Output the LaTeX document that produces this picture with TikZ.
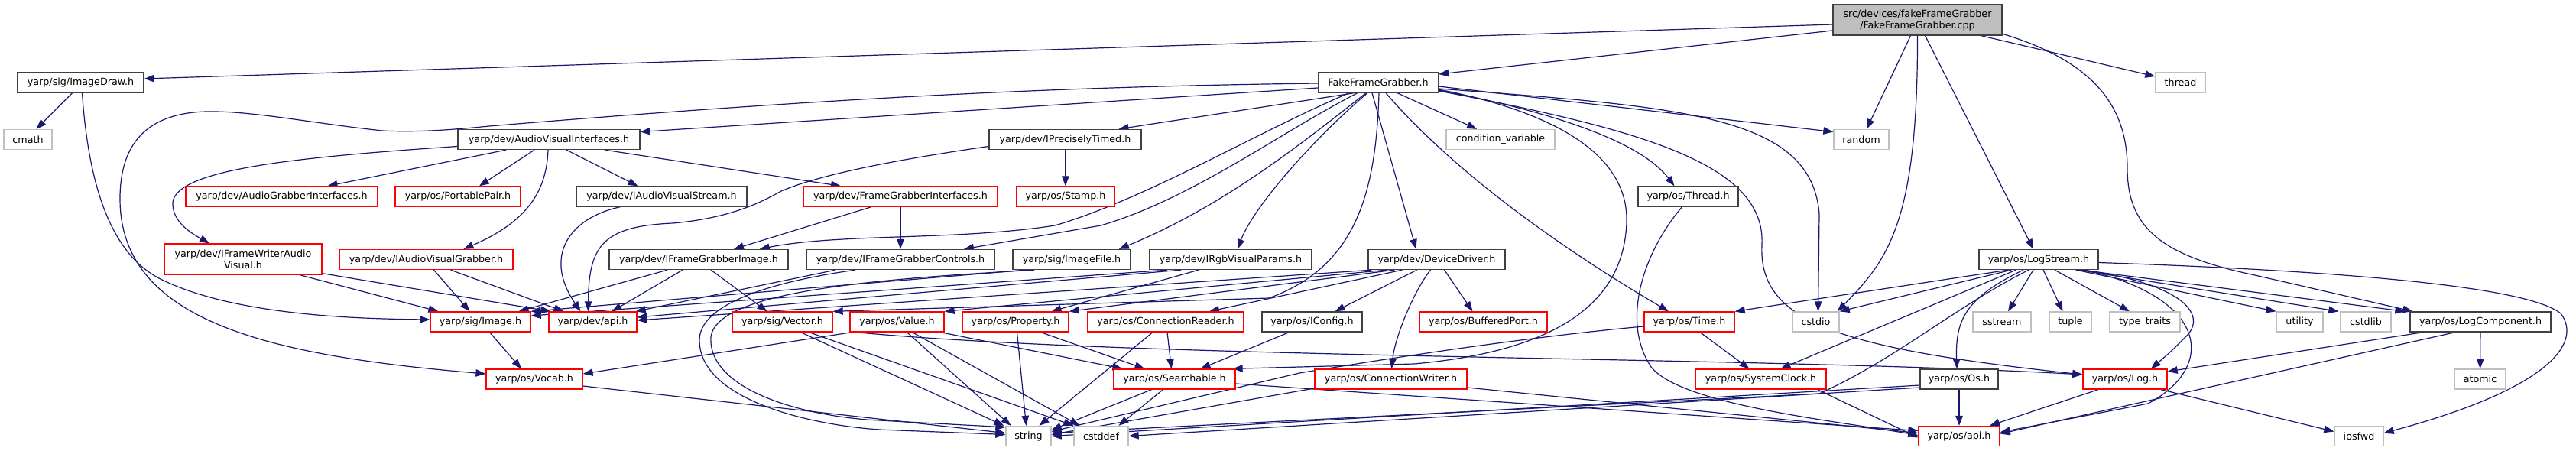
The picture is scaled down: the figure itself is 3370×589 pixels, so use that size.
\documentclass[tikz,border=0pt]{standalone}
\usepackage{fontspec}
\newfontfamily\dvs{DejaVu Sans}
\usetikzlibrary{arrows.meta,calc,backgrounds}
\definecolor{edgec}{HTML}{191970}
\definecolor{grayb}{HTML}{BFBFBF}
\definecolor{redc}{HTML}{FF0000}
\definecolor{blkc}{HTML}{404040}
\begin{document}
\begin{tikzpicture}[x=1pt,y=-1pt,
  hbox/.style={rectangle,line width=1.3pt,inner xsep=0pt,inner ysep=0pt,minimum height=26pt,
     font=\dvs\fontsize{12.7pt}{15pt}\selectfont,text=black,fill=white,align=center},
  blk/.style={hbox,draw=blkc},
  redb/.style={hbox,draw=redc},
  gryb/.style={hbox,draw=grayb},
  edg/.style={draw=edgec,line width=1.2pt,-{Triangle[length=13pt,width=9.5pt]}},
]
\useasboundingbox (0,0) rectangle (3370,589);
% row 0/1
\node[blk,fill=grayb,minimum width=221,minimum height=40] (root) at (2508.5,26) {src/devices/fakeFrameGrabber\\/FakeFrameGrabber.cpp};
\node[blk,minimum width=165] (imgdraw) at (105.5,108) {yarp/sig/ImageDraw.h};
\node[blk,minimum width=157] (ffgh) at (1803,108) {FakeFrameGrabber.h};
\node[gryb,minimum width=65] (thread) at (2852.5,108) {thread};
% row 2
\node[gryb,minimum width=63] (cmath) at (36.5,182.5) {cmath};
\node[blk,minimum width=238] (avi) at (718,182.5) {yarp/dev/AudioVisualInterfaces.h};
\node[blk,minimum width=199] (iprec) at (1393.5,182.5) {yarp/dev/IPreciselyTimed.h};
\node[gryb,minimum width=142] (condvar) at (1963,182.5) {condition\_variable};
\node[gryb,minimum width=72] (random) at (2435,182.5) {random};
% row 3
\node[redb,minimum width=251] (audiograb) at (368.5,257) {yarp/dev/AudioGrabberInterfaces.h};
\node[redb,minimum width=164] (portpair) at (599,257) {yarp/os/PortablePair.h};
\node[blk,minimum width=223] (iavstream) at (865.5,257) {yarp/dev/IAudioVisualStream.h};
\node[redb,minimum width=254] (fgi) at (1178,257) {yarp/dev/FrameGrabberInterfaces.h};
\node[redb,minimum width=128] (stamp) at (1394,257) {yarp/os/Stamp.h};
\node[blk,minimum width=131] (threadh) at (2208.5,257) {yarp/os/Thread.h};
% row 4
\node[redb,minimum width=206,minimum height=40] (ifwav) at (318,339) {yarp/dev/IFrameWriterAudio\\Visual.h};
\node[redb,minimum width=227] (iavgrab) at (557.5,339.5) {yarp/dev/IAudioVisualGrabber.h};
\node[blk,minimum width=234] (ifgimage) at (914,339.5) {yarp/dev/IFrameGrabberImage.h};
\node[blk,minimum width=246] (ifgcontrols) at (1178,339.5) {yarp/dev/IFrameGrabberControls.h};
\node[blk,minimum width=154] (imagefile) at (1402,339.5) {yarp/sig/ImageFile.h};
\node[blk,minimum width=212] (irgb) at (1610,339.5) {yarp/dev/IRgbVisualParams.h};
\node[blk,minimum width=179] (devdriver) at (1879.5,339.5) {yarp/dev/DeviceDriver.h};
\node[blk,minimum width=156] (logstream) at (2667,339.5) {yarp/os/LogStream.h};
% row 5
\node[redb,minimum width=131] (image) at (628.5,421) {yarp/sig/Image.h};
\node[redb,minimum width=115] (devapi) at (775.5,421) {yarp/dev/api.h};
\node[redb,minimum width=131] (vector) at (1023.5,421) {yarp/sig/Vector.h};
\node[redb,minimum width=123] (value) at (1173.5,421) {yarp/os/Value.h};
\node[redb,minimum width=139] (property) at (1328.5,421) {yarp/os/Property.h};
\node[redb,minimum width=204] (connreader) at (1525,421) {yarp/os/ConnectionReader.h};
\node[blk,minimum width=131] (iconfig) at (1716.5,421) {yarp/os/IConfig.h};
\node[redb,minimum width=167] (bufport) at (1940.5,421) {yarp/os/BufferedPort.h};
\node[redb,minimum width=118] (time) at (2210,421) {yarp/os/Time.h};
\node[gryb,minimum width=61] (cstdio) at (2375.5,421) {cstdio};
\node[gryb,minimum width=76] (sstream) at (2619,421) {sstream};
\node[gryb,minimum width=55] (tuple) at (2708.5,421) {tuple};
\node[gryb,minimum width=92] (typetraits) at (2806,421) {type\_traits};
\node[gryb,minimum width=61] (utility) at (3008.5,421) {utility};
\node[gryb,minimum width=66] (cstdlib) at (3095,421) {cstdlib};
\node[blk,minimum width=184] (logcomp) at (3245,421) {yarp/os/LogComponent.h};
% row 6
\node[redb,minimum width=126] (vocab) at (699,496) {yarp/os/Vocab.h};
\node[redb,minimum width=159] (searchable) at (1536.5,496) {yarp/os/Searchable.h};
\node[redb,minimum width=199] (connwriter) at (1819.5,496) {yarp/os/ConnectionWriter.h};
\node[redb,minimum width=171] (sysclock) at (2303.5,496) {yarp/os/SystemClock.h};
\node[blk,minimum width=102] (os) at (2563,496) {yarp/os/Os.h};
\node[redb,minimum width=110] (log) at (2780,496) {yarp/os/Log.h};
\node[gryb,minimum width=67] (atomic) at (3244.5,496) {atomic};
% row 7
\node[gryb,minimum width=59] (string) at (1345.5,570.5) {string};
\node[gryb,minimum width=71] (cstddef) at (1440.5,570.5) {cstddef};
\node[redb,minimum width=106] (osapi) at (2563,570.5) {yarp/os/api.h};
\node[gryb,minimum width=64] (iosfwd) at (3086,570.5) {iosfwd};

\begin{pgfonlayer}{background}
% root
\draw[edg] ($(root.west)+(0,6)$) -- ($(imgdraw.east)+(0,-5)$);
\draw[edg] ($(root.west)+(0,14)$) -- ($(ffgh.east)+(0,-11)$);
\draw[edg] ($(root.south)+(-9,0)$) -- ($(random.north)+(7,0)$);
\draw[edg] (root.south) .. controls (2509,290) and (2470,340) .. ($(cstdio.north east)+(-3,0)$);
\draw[edg] ($(root.south)+(10,0)$) -- ($(logstream.north)+(-7,0)$);
\draw[edg] ($(root.south east)+(-28,0)$) -- ($(thread.west)+(0,-8)$);
\draw[edg] ($(root.south east)+(-2,-3)$) .. controls (2740,80) and (2783,140) .. (2783,220) .. controls (2783,300) and (2830,335) .. (2950,360) -- ($(logcomp.north west)+(4,0)$);
% ImageDraw
\draw[edg] ($(imgdraw.south)+(-11,0)$) -- ($(cmath.north)+(11,0)$);
\draw[edg] ($(imgdraw.south)+(2,0)$) .. controls (115,230) and (140,330) .. (210,365) .. controls (300,410) and (450,417) .. ($(image.west)+(0,-3)$);
% FakeFrameGrabber.h
\draw[edg] ($(ffgh.west)+(0,1)$) .. controls (1400,113) and (1100,127) .. (640,165) .. controls (580,171) and (540,173) .. (500,171) .. controls (400,160) and (330,145) .. (270,146) .. controls (190,148) and (157,190) .. (157,260) .. controls (157,420) and (350,465) .. ($(vocab.west)+(0,-7)$);
\draw[edg] ($(ffgh.west)+(0,7)$) -- ($(avi.east)+(0,-10)$);
\draw[edg] ($(ffgh.south)+(-31,0)$) -- ($(iprec.north)+(70,0)$);
\draw[edg] ($(ffgh.south)+(-38,0)$) .. controls (1650,170) and (1500,260) .. (1380,295) .. controls (1250,315) and (1100,305) .. ($(ifgimage.north east)+(-38,0)$);
\draw[edg] ($(ffgh.south)+(-27,0)$) .. controls (1680,170) and (1560,260) .. (1440,295) -- ($(ifgcontrols.north)+(83,0)$);
\draw[edg] ($(ffgh.south)+(-16,0)$) .. controls (1700,190) and (1600,270) .. ($(imagefile.north)+(62,0)$);
\draw[edg] ($(ffgh.south)+(-14,0)$) .. controls (1720,180) and (1640,270) .. ($(irgb.north)+(9,0)$);
\draw[edg] ($(ffgh.south)+(1,0)$) .. controls (1800,260) and (1770,350) .. (1660,390) -- (vector.north east);
\draw[edg] ($(ffgh.south)+(-8,0)$) -- ($(devdriver.north)+(-27,0)$);
\draw[edg] ($(ffgh.south)+(10,0)$) .. controls (1880,200) and (2000,300) .. ($(time.north)+(-27,0)$);
\draw[edg] ($(ffgh.south)+(25,0)$) -- ($(condvar.north)+(-31,0)$);
\draw[edg] ($(ffgh.east)+(0,5)$) -- ($(random.west)+(0,-10)$);
\draw[edg] ($(ffgh.east)+(0,8)$) .. controls (2200,140) and (2370,150) .. (2380,280) -- ($(cstdio.north)+(3,0)$);
\draw[edg] ($(ffgh.east)+(0,9)$) .. controls (2050,150) and (2130,210) .. (2128,290) .. controls (2125,400) and (2030,460) .. (1850,476) -- ($(searchable.north east)+(-4,0)$);
\draw[edg] ($(ffgh.east)+(0,10)$) .. controls (2050,150) and (2150,190) .. ($(threadh.north)+(-18,0)$);
\draw[edg] ($(ffgh.east)+(0,11)$) .. controls (2150,170) and (2310,215) .. (2305,320) .. controls (2300,420) and (2400,455) .. ($(log.west)+(0,-6)$);
% AudioVisualInterfaces
\draw[edg] ($(avi.south)+(-56,0)$) -- ($(audiograb.north)+(60,0)$);
\draw[edg] ($(avi.south)+(-19,0)$) -- ($(portpair.north)+(28,0)$);
\draw[edg] ($(avi.south)+(23,0)$) -- ($(iavstream.north)+(-31,0)$);
\draw[edg] ($(avi.south)+(73,0)$) -- ($(fgi.north)+(-78,0)$);
\draw[edg] ($(avi.south)+(-1,0)$) .. controls (715,250) and (690,290) .. ($(iavgrab.north)+(49,0)$);
\draw[edg] ($(avi.west)+(0,9)$) .. controls (400,205) and (230,220) .. (226,265) .. controls (225,290) and (250,305) .. ($(ifwav.north)+(-44,0)$);
% IPreciselyTimed, FrameGrabberInterfaces
\draw[edg] (iprec) -- (stamp);
\draw[edg] ($(iprec.west)+(0,9)$) .. controls (1200,205) and (1080,225) .. (1022,250) .. controls (1000,262) and (960,285) .. (880,292) .. controls (790,296) and (770,320) .. ($(devapi.north)+(-6,0)$);
\draw[edg] ($(fgi.south)+(-38,0)$) -- ($(ifgimage.north)+(46,0)$);
\draw[edg] (fgi) -- (ifgcontrols);
% row 4 sources
\draw[edg] ($(ifwav.south)+(74,0)$) -- ($(image.north)+(-55,0)$);
\draw[edg] ($(ifwav.south east)+(0,-2)$) -- ($(devapi.north west)+(3,0)$);
\draw[edg] ($(iavgrab.south)+(10,0)$) -- ($(image.north)+(-14,0)$);
\draw[edg] ($(iavgrab.south)+(32,0)$) -- ($(devapi.north)+(-38,0)$);
\draw[edg] ($(iavstream.south)+(-54,0)$) .. controls (745,285) and (710,335) .. ($(devapi.north)+(-16,0)$);
\draw[edg] ($(ifgimage.south)+(-41,0)$) -- ($(image.north)+(50,0)$);
\draw[edg] ($(ifgimage.south)+(-21,0)$) -- ($(devapi.north)+(25,0)$);
\draw[edg] ($(ifgimage.south)+(16,0)$) -- ($(vector.north)+(-20,0)$);
\draw[edg] ($(ifgcontrols.south)+(-85,0)$) -- ($(devapi.north east)+(-2,0)$);
\draw[edg] ($(ifgcontrols.south)+(-59,0)$) .. controls (1000,370) and (915,400) .. (915,445) .. controls (915,520) and (1050,555) .. (1150,562) -- ($(string.west)+(0,-2)$);
\draw[edg] ($(imagefile.south)+(-49,0)$) .. controls (1150,365) and (940,380) .. (930,440) .. controls (925,510) and (1050,545) .. (1150,550) -- ($(string.north west)+(0,2)$);
\draw[edg] ($(imagefile.south)+(-60,0)$) -- ($(image.north east)+(0,0)$);
\draw[edg] ($(irgb.south)+(-83,0)$) -- ($(image.east)+(0,-8)$);
\draw[edg] ($(irgb.south)+(-65,0)$) -- ($(devapi.east)+(0,-6)$);
\draw[edg] ($(irgb.south)+(-42,0)$) -- ($(property.north)+(47,0)$);
\draw[edg] ($(devdriver.south west)+(5,0)$) -- ($(devapi.east)+(0,-2)$);
\draw[edg] ($(devdriver.south west)+(25,0)$) -- (value.north east);
\draw[edg] ($(devdriver.south west)+(35,0)$) -- (property.north east);
\draw[edg] ($(devdriver.south west)+(45,0)$) -- ($(connreader.north)+(57,0)$);
\draw[edg] ($(devdriver.south)+(-26,0)$) -- ($(iconfig.north)+(30,0)$);
\draw[edg] ($(devdriver.south)+(-8,0)$) .. controls (1850,380) and (1825,440) .. ($(connwriter.north)+(1,0)$);
\draw[edg] ($(devdriver.south)+(10,0)$) -- ($(bufport.north)+(-14,0)$);
% LogStream
\draw[edg] ($(logstream.south west)+(39,0)$) -- (time.north east);
\draw[edg] ($(logstream.south west)+(43,0)$) -- ($(cstdio.north east)+(0,0)$);
\draw[edg] ($(logstream.south west)+(49,0)$) -- ($(sysclock.north)+(26,0)$);
\draw[edg] ($(logstream.south)+(-20,0)$) .. controls (2570,390) and (2558,420) .. ($(os.north)+(-3,0)$);
\draw[edg] ($(logstream.south)+(-13,0)$) .. controls (2560,400) and (2480,470) .. (2380,515) -- ($(string.east)+(0,-4)$);
\draw[edg] ($(logstream.south)+(-7,0)$) -- ($(sstream.north)+(8,0)$);
\draw[edg] ($(logstream.south)+(6,0)$) -- ($(tuple.north)+(-10,0)$);
\draw[edg] ($(logstream.south)+(21,0)$) -- ($(typetraits.north)+(-20,0)$);
\draw[edg] ($(logstream.south east)+(-30,0)$) -- (utility.north west);
\draw[edg] ($(logstream.south east)+(-27,0)$) -- ($(cstdlib.north west)+(-2,0)$);
\draw[edg] ($(logstream.south east)+(-24,0)$) -- ($(logcomp.north west)+(-6,0)$);
\draw[edg] ($(logstream.south east)+(-21,0)$) .. controls (2850,370) and (2890,410) .. (2860,440) .. controls (2840,460) .. ($(log.north)+(34,0)$);
\draw[edg] ($(logstream.south east)+(-18,0)$) .. controls (2890,390) and (2900,480) .. (2810,528) -- ($(osapi.east)+(0,-5)$);
\draw[edg] ($(logstream.east)+(0,4)$) .. controls (3000,352) and (3300,370) .. (3350,410) .. controls (3380,450) and (3330,510) .. ($(iosfwd.east)+(0,-4)$);
% row 5 sources
\draw[edg] ($(image.south)+(12,0)$) -- ($(vocab.north)+(-17,0)$);
\draw[edg] ($(vector.south)+(24,0)$) -- ($(string.north west)+(-2,0)$);
\draw[edg] ($(vector.south)+(35,0)$) -- (cstddef.north west);
\draw[edg] ($(value.south west)+(8,0)$) .. controls (1500,470) and (2300,466) .. ($(log.west)+(0,-6)$);
\draw[edg] ($(value.south west)+(3,0)$) -- ($(vocab.east)+(0,-7)$);
\draw[edg] ($(value.south)+(57,0)$) -- ($(searchable.north)+(-68,0)$);
\draw[edg] ($(value.south)+(13,0)$) -- ($(string.north)+(-23,0)$);
\draw[edg] ($(value.south)+(20,0)$) -- ($(cstddef.north)+(-28,0)$);
\draw[edg] ($(property.south)+(2,0)$) -- ($(string.north)+(-3,0)$);
\draw[edg] ($(property.south)+(33,0)$) -- ($(searchable.north)+(-39,0)$);
\draw[edg] ($(connreader.south)+(-17,0)$) -- ($(string.north)+(14,0)$);
\draw[edg] ($(connreader.south)+(2,0)$) -- ($(searchable.north)+(-4,0)$);
\draw[edg] ($(iconfig.south)+(-30,0)$) -- ($(searchable.north)+(34,0)$);
\draw[edg] ($(time.south)+(14,0)$) -- ($(sysclock.north)+(-15,0)$);
\draw[edg] ($(time.west)+(0,6)$) .. controls (2050,436) and (1900,455) .. (1700,488) -- ($(string.east)+(0,-6)$);
\draw[edg] ($(logcomp.south west)+(18,0)$) -- ($(log.east)+(0,-10)$);
\draw[edg] (logcomp) -- (atomic);
\draw[edg] ($(logcomp.south)+(-33,0)$) -- ($(osapi.east)+(0,-3)$);
% row 6 sources
\draw[edg] ($(vocab.east)+(0,9)$) -- ($(string.west)+(0,-4)$);
\draw[edg] ($(searchable.south)+(-30,0)$) -- ($(string.east)+(0,-8)$);
\draw[edg] ($(searchable.south)+(-15,0)$) -- ($(cstddef.north)+(23,0)$);
\draw[edg] ($(searchable.east)+(0,6)$) -- ($(osapi.west)+(0,-7)$);
\draw[edg] ($(connwriter.west)+(0,12)$) -- ($(string.east)+(0,-2)$);
\draw[edg] ($(connwriter.east)+(0,11)$) -- ($(osapi.west)+(0,-4)$);
\draw[edg] ($(threadh.south)+(-8,0)$) .. controls (2150,330) and (2120,420) .. (2160,480) .. controls (2200,530) and (2400,550) .. ($(osapi.west)+(0,-1)$);
\draw[edg] ($(sysclock.south east)+(-12,0)$) -- ($(osapi.west)+(0,2)$);
\draw[edg] ($(os.west)+(0,8)$) -- ($(string.east)+(0,0)$);
\draw[edg] ($(os.west)+(0,11)$) -- ($(cstddef.east)+(0,0)$);
\draw[edg] (os) -- (osapi);
\draw[edg] ($(log.south)+(-35,0)$) -- ($(osapi.north)+(40,0)$);
\draw[edg] ($(log.south)+(47,0)$) -- ($(iosfwd.west)+(0,-6)$);
\end{pgfonlayer}
\end{tikzpicture}
\end{document}
